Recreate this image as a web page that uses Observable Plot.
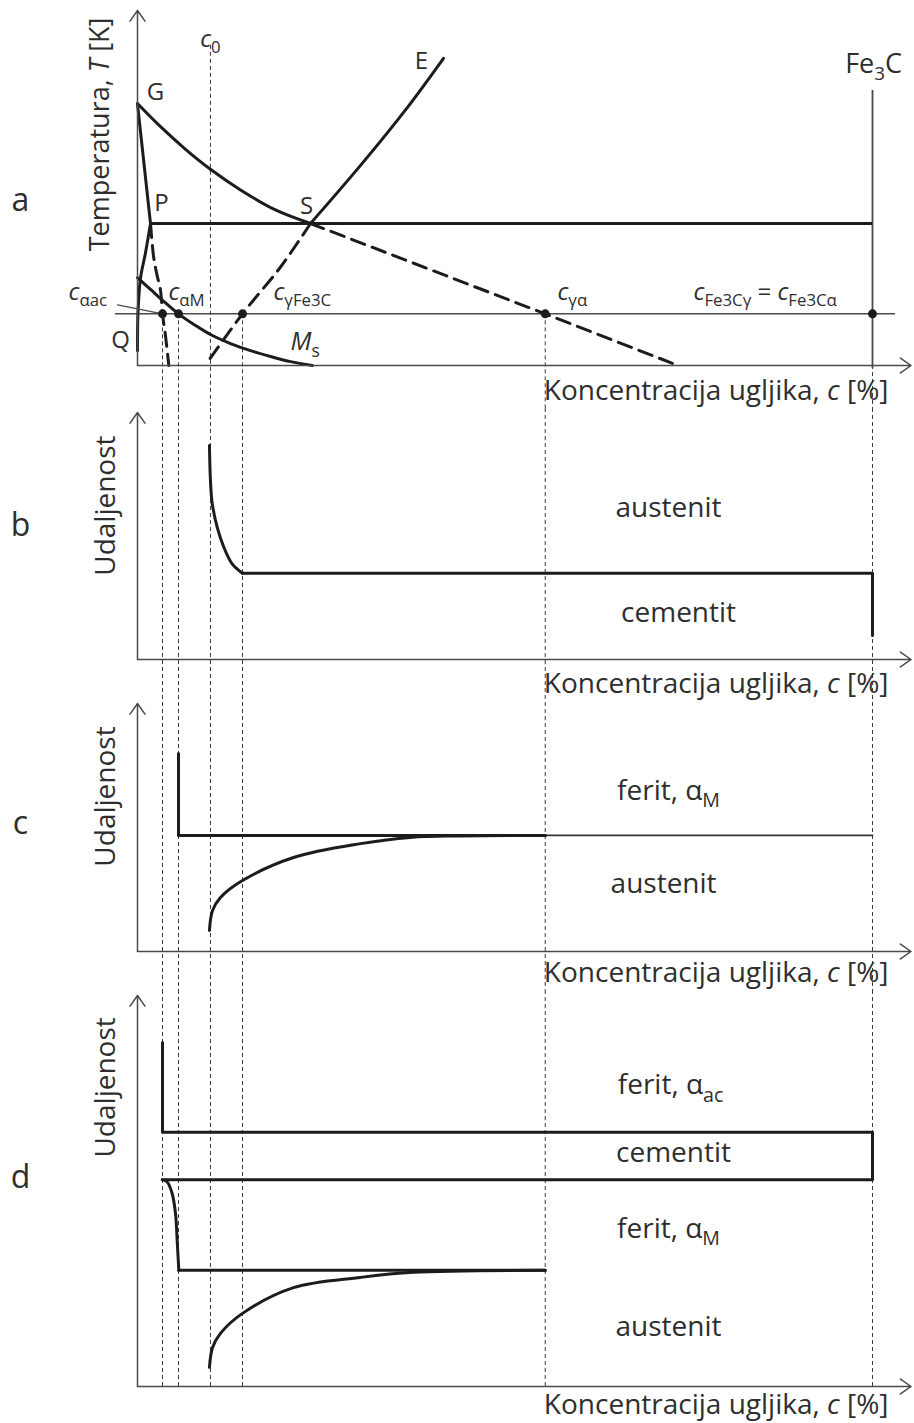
<!DOCTYPE html>
<html><head><meta charset="utf-8">
<script src="https://cdn.jsdelivr.net/npm/d3@7"></script>
<script src="https://cdn.jsdelivr.net/npm/@observablehq/plot@0.6"></script>
<style>
body{margin:0;background:#fff;}
#fig svg{display:block;}
</style></head><body><div id="fig"></div>
<script>
// ---------- DATA ----------
// concentration c [%] (Fe3C = 6.67), temperature T [K], distance u (arbitrary 0–100)
const C_FE3C = 6.67;
const C_AXIS_END = 7.02;
const T_AXIS = 780, T_TOP = 1330, T_PS = 1000, T_ISO = 860;

// guide concentrations: cαac, cαM, c0, cγFe3C, cγα, cFe3C
const guideC    = [0.227, 0.372, 0.662, 0.953, 3.70, 6.67];
const guideTopT = [860,   860,   1276,  860,   860,  780];
const dotC      = [0.227, 0.372, 0.953, 3.70, 6.67];

// panel a – Fe–Fe3C diagram (c, T)
const lineGS     = [[0,1186],[0.209,1150],[0.436,1115],[0.662,1084],[0.935,1052],[1.252,1021],[1.57,1000]];
const lineGSmeta = [[1.57,1000],[3.70,860],[4.86,783]];
const lineGP     = [[0,1185],[0.118,1000]];
const linePQ     = [[0.118,1000],[0.073,955],[0.027,915],[0.004,860],[0,803]];
const linePQmeta = [[0.118,1000],[0.145,950],[0.172,924],[0.209,896],[0.227,860],[0.254,826],[0.284,780]];
const lineSE     = [[1.57,1000],[2.024,1090],[2.450,1180],[2.777,1256]];
const lineSEmeta = [[1.57,1000],[1.30,933],[0.953,860],[0.635,785]];
const lineMs     = [[0,916],[0.118,898],[0.227,881],[0.372,860],[0.526,842],[0.662,828],[0.844,814],[1.025,803],[1.207,794],[1.389,786],[1.588,780]];
const leaderAc   = [[-0.181,874],[0.227,860]];
const fe3cLineT  = [775, 1206];

const pointLabels = [
  {text:"G", c:0.163, T:1203},
  {text:"P", c:0.218, T:1032},
  {text:"S", c:1.534, T:1026},
  {text:"E", c:2.577, T:1252},
  {text:"Q", c:-0.154, T:819}
];
const concLabels = [
  {text:"*c*_{αac}", c:-0.626, T:893},
  {text:"*c*_{αM}", c:0.281, T:893},
  {text:"*c*_{γFe3C}", c:1.234, T:893},
  {text:"*c*_{γα}", c:3.811, T:893},
  {text:"*c*_{Fe3Cγ} = *c*_{Fe3Cα}", c:5.046, T:893}
];

// panel b – austenite / cementite interface
const bCurve = [[0.653,86.6],[0.662,72.5],[0.678,63.2],[0.723,53.6],[0.783,45.5],[0.859,38.7],[0.953,34.9]];
const bFlat  = [[0.953,34.9],[6.67,34.9],[6.67,9.7]];
const bLabels = [{text:"austenit", c:4.819, u:61.5},{text:"cementit", c:4.91, u:19.0}];

// panel c – ferrite αM / austenite
const cFerrite     = [[0.372,79.8],[0.372,46.8],[3.70,46.8]];
const cFerriteRest = [[3.70,46.8],[6.67,46.8]];
const cAustenite   = [[0.653,8.5],[0.681,16.5],[0.753,21.8],[0.953,28.6],[1.416,37.9],[2.024,43.5],[2.477,46.0],[2.931,46.6],[3.70,46.8]];
const cLabels = [{text:"ferit, α_{M}", c:4.819, u:64.9},{text:"austenit", c:4.774, u:27.4}];

// panel d – ferrite αac / cementite / ferrite αM / austenite
const dFerriteAc  = [[0.227,88.0],[0.227,65.0],[6.67,65.0],[6.67,52.9],[0.227,52.9]];
const dFerriteMc  = [[0.224,52.9],[0.270,52.3],[0.315,49.3],[0.345,44.2],[0.360,37.3],[0.375,29.7]];
const dFerriteMf  = [[0.375,29.7],[3.70,29.7]];
const dAustenite  = [[0.653,4.9],[0.681,10.0],[0.753,13.6],[0.953,18.7],[1.416,25.3],[2.024,27.9],[2.505,29.2],[3.70,29.7]];
const dLabels = [
  {text:"ferit, α_{ac}", c:4.837, u:77.0},
  {text:"cementit", c:4.864, u:59.6},
  {text:"ferit, α_{M}", c:4.819, u:40.4},
  {text:"austenit", c:4.819, u:15.1}
];

const xTitle = "Koncentracija ugljika, *c* [%]";
const yTitleA = "Temperatura, *T* [K]";
const yTitleB = "Udaljenost";

// ---------- STYLE ----------
const INK = "#1c1c1c", AXIS = "#4a4a4a", TXT = "#2e2e2e";
const FONT = "'Open Sans', 'Noto Sans', sans-serif";
const solid = {x: d => d[0], y: d => d[1], stroke: INK, strokeWidth: 3, curve: "catmull-rom"};
const dashed = {...solid, strokeDasharray: "14,8"};
const guideStyle = {stroke: "#3a3a3a", strokeWidth: 1, strokeDasharray: "4,3"};
const arrowStyle = {stroke: AXIS, strokeWidth: 1.5, headLength: 13, headAngle: 70};
const FS_TITLE = 28, FS_PHASE = 28, FS_LABEL = 24, FS_PANEL = 32, SUB = 0.7;

function axes(y0, yTop) {
  return [
    Plot.arrow([0], {x1: 0, y1: y0, x2: 0, y2: yTop, ...arrowStyle}),
    Plot.arrow([0], {x1: 0, y1: y0, x2: C_AXIS_END, y2: y0, ...arrowStyle})
  ];
}

function panel(height, yDomain, yRange, marks) {
  return Plot.plot({
    width: 914, height, margin: 0,
    style: {fontFamily: FONT, fontSize: "22px", color: TXT, background: "#fff", overflow: "hidden"},
    x: {domain: [0, C_FE3C], range: [137, 872], axis: null},
    y: {domain: yDomain, range: yRange, axis: null},
    marks
  });
}

function txt(data, y, o = {}) {
  return Plot.text(data, {x: "c", y, text: "text", fill: TXT, fontSize: FS_PHASE, ...o});
}
function one(s, x, y, o = {}) {
  return Plot.text([s], {x, y, text: d => d, fill: TXT, ...o});
}

// ---------- PANEL A ----------
const guideRowsA = guideC.map((c, i) => ({c, top: guideTopT[i]}));
const figA = panel(408, [T_AXIS, T_TOP], [365, 10], [
  Plot.ruleX(guideRowsA, {x: "c", y1: "top", y2: 700, ...guideStyle}),
  Plot.ruleY([T_ISO], {x1: -0.2, x2: 6.88, stroke: AXIS, strokeWidth: 1.5}),
  Plot.ruleX([C_FE3C], {y1: fe3cLineT[0], y2: fe3cLineT[1], stroke: AXIS, strokeWidth: 1.8}),
  Plot.ruleY([T_PS], {x1: 0.118, x2: C_FE3C, stroke: INK, strokeWidth: 3}),
  Plot.line(lineGS, solid),
  Plot.line(lineGSmeta, {...dashed, curve: "linear"}),
  Plot.line(lineGP, {...solid, curve: "linear"}),
  Plot.line(linePQ, solid),
  Plot.line(linePQmeta, dashed),
  Plot.line(lineSE, solid),
  Plot.line(lineSEmeta, dashed),
  Plot.line(lineMs, solid),
  Plot.line(leaderAc, {x: d => d[0], y: d => d[1], stroke: AXIS, strokeWidth: 1.2}),
  Plot.dot(dotC, {x: d => d, y: T_ISO, r: 4.5, fill: INK, stroke: "none"}),
  ...axes(T_AXIS, T_TOP),
  txt(pointLabels, "T", {fontSize: FS_LABEL}),
  txt(concLabels, "T", {textAnchor: "start", fontSize: FS_LABEL}),
  one("*c*_{0}", 0.662, 1285, {fontSize: FS_LABEL}),
  one("*M*_{s}", 1.388, 816, {fontSize: 25, textAnchor: "start"}),
  one("Fe_{3}C", 6.68, 1246, {fontSize: 27}),
  one(xTitle, 6.815, 741, {fontSize: FS_TITLE, textAnchor: "end"}),
  one(yTitleA, -0.336, 1138, {fontSize: 27, rotate: -90}),
  one("a", -1.062, 1036, {fontSize: FS_PANEL})
]);

// ---------- PANEL B ----------
const figB = panel(294, [0, 100], [251, 4], [
  Plot.ruleX(guideC, {x: d => d, ...guideStyle}),
  Plot.line(bCurve, solid),
  Plot.line(bFlat, {...solid, curve: "linear"}),
  ...axes(0, 100),
  txt(bLabels, "u"),
  one(xTitle, 6.815, -10.1, {fontSize: FS_TITLE, textAnchor: "end"}),
  one(yTitleB, -0.29, 62.3, {fontSize: FS_PHASE, rotate: -90}),
  one("b", -1.062, 54.3, {fontSize: FS_PANEL})
]);

// ---------- PANEL C ----------
const figC = panel(288, [0, 100], [249, 1], [
  Plot.ruleX(guideC, {x: d => d, ...guideStyle}),
  Plot.line(cFerrite, {...solid, curve: "linear"}),
  Plot.line(cFerriteRest, {...solid, curve: "linear", strokeWidth: 1.8, stroke: "#333"}),
  Plot.line(cAustenite, solid),
  ...axes(0, 100),
  txt(cLabels, "u"),
  one(xTitle, 6.815, -8.6, {fontSize: FS_TITLE, textAnchor: "end"}),
  one(yTitleB, -0.29, 62.5, {fontSize: FS_PHASE, rotate: -90}),
  one("c", -1.062, 51.6, {fontSize: FS_PANEL})
]);

// ---------- PANEL D ----------
const figD = panel(433, [0, 100], [396, 5], [
  Plot.ruleX(guideC, {x: d => d, y1: 0, y2: 110, ...guideStyle}),
  Plot.line(dFerriteAc, {...solid, curve: "linear"}),
  Plot.line(dFerriteMc, solid),
  Plot.line(dFerriteMf, {...solid, curve: "linear"}),
  Plot.line(dAustenite, solid),
  ...axes(0, 100),
  txt(dLabels, "u"),
  one(xTitle, 6.815, -4.7, {fontSize: FS_TITLE, textAnchor: "end"}),
  one(yTitleB, -0.29, 76.5, {fontSize: FS_PHASE, rotate: -90}),
  one("d", -1.062, 53.5, {fontSize: FS_PANEL})
]);

const fig = document.getElementById("fig");
[figA, figB, figC, figD].forEach(s => fig.appendChild(s));

// rich text: *x* italic, _{..} subscript
const NS = "http://www.w3.org/2000/svg";
fig.querySelectorAll("text").forEach(t => {
  const s = t.textContent;
  if (!/[*_]/.test(s)) return;
  const fs = parseFloat(getComputedStyle(t).fontSize) || 22;
  while (t.firstChild) t.removeChild(t.firstChild);
  const re = /\*([^*]+)\*|_\{([^}]*)\}|([^*_]+)/g;
  let m, shifted = false;
  while ((m = re.exec(s))) {
    const ts = document.createElementNS(NS, "tspan");
    if (m[2] !== undefined) {
      ts.textContent = m[2];
      ts.setAttribute("font-size", (fs * SUB).toFixed(1));
      ts.setAttribute("dy", (fs * 0.26).toFixed(1));
      shifted = true;
    } else {
      ts.textContent = m[1] !== undefined ? m[1] : m[3];
      if (m[1] !== undefined) ts.setAttribute("font-style", "italic");
      if (shifted) { ts.setAttribute("dy", (-fs * 0.26).toFixed(1)); shifted = false; }
    }
    t.appendChild(ts);
  }
});
</script></body></html>
